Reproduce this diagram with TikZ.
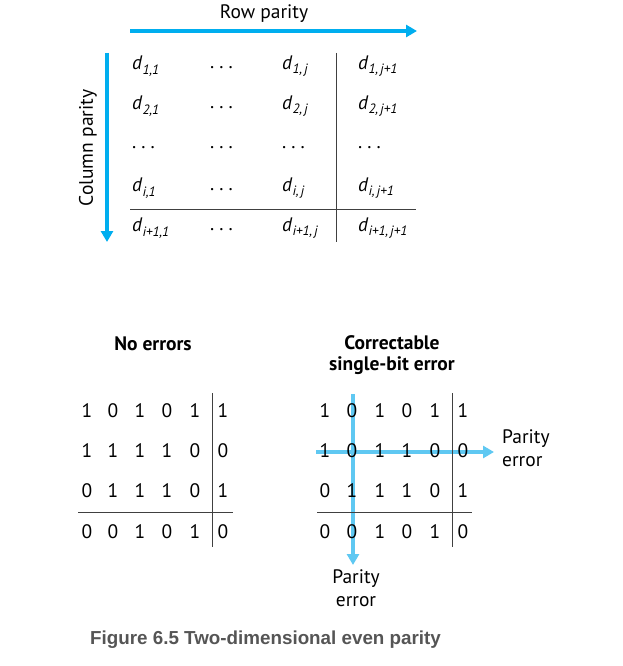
\documentclass[tikz,border=0pt]{standalone}
\usepackage{fontspec}
\setmainfont{PT Sans}
\newfontfamily\capfont{Liberation Sans}
\usetikzlibrary{arrows.meta}
\definecolor{cyanA}{RGB}{0,174,239}
\definecolor{cyanB}{RGB}{95,200,242}
\definecolor{capgray}{RGB}{85,85,85}
\newcommand\dsub[1]{\textit{d}\raisebox{-0.45ex}{\fontsize{13.5}{14}\selectfont\itshape #1}}
\newcommand\hdots{.\hspace{5pt}.\hspace{5pt}.}
\tikzset{
  lbl/.style={font=\fontsize{19.5}{23}\selectfont, inner sep=0pt},
  ent/.style={font=\fontsize{19.5}{23}\selectfont, inner sep=0pt, anchor=west},
  bit/.style={font=\fontsize{19.5}{23}\selectfont, inner sep=0pt},
  ttl/.style={font=\fontsize{19.5}{21}\selectfont\bfseries, inner sep=0pt, align=center},
  rule/.style={draw=black!75, line width=0.9pt},
  bigarrow/.style={draw=cyanA, line width=3.5pt, -{Triangle[length=11pt,width=12pt]}},
  errarrow/.style={draw=cyanB, line width=3.5pt, -{Triangle[length=11pt,width=12pt]}},
}
\begin{document}
\begin{tikzpicture}[x=1pt,y=-1pt]
\useasboundingbox (0,0) rectangle (622,666);
% ---------- top general scheme ----------
\node[lbl] (rowp) at (264,14) {Row parity};
\coordinate (ra) at (130,31); \coordinate (rb) at (417,31);
\draw[bigarrow] (ra) -- (rb);
\node[lbl, rotate=90] (colp) at (88,148) {Column parity};
\coordinate (ca) at (107,53); \coordinate (cb) at (107,242);
\draw[bigarrow] (ca) -- (cb);
% entries
\node[ent] (a11) at (132,66) {\dsub{1,1}};
\node[ent] (a12) at (210,68) {\hdots};
\node[ent] (a13) at (282,66) {\dsub{1,\,j}};
\node[ent] (a14) at (358,66) {\dsub{1,\,j+1}};
\node[ent] (a21) at (132,106) {\dsub{2,1}};
\node[ent] (a22) at (210,108) {\hdots};
\node[ent] (a23) at (282,106) {\dsub{2,\,j}};
\node[ent] (a24) at (358,106) {\dsub{2,\,j+1}};
\node[ent] (a31) at (132,148) {\hdots};
\node[ent] (a32) at (210,148) {\hdots};
\node[ent] (a33) at (282,148) {\hdots};
\node[ent] (a34) at (358,148) {\hdots};
\node[ent] (a41) at (132,188) {\dsub{i,1}};
\node[ent] (a42) at (210,190) {\hdots};
\node[ent] (a43) at (282,188) {\dsub{i,\,j}};
\node[ent] (a44) at (358,188) {\dsub{i,\,j+1}};
\node[ent] (a51) at (132,228) {\dsub{i+1,1}};
\node[ent] (a52) at (210,230) {\hdots};
\node[ent] (a53) at (282,228) {\dsub{i+1,\,j}};
\node[ent] (a54) at (358,228) {\dsub{i+1,\,j+1}};
\coordinate (tv1) at (336,53); \coordinate (tv2) at (336,242);
\coordinate (th1) at (130,209); \coordinate (th2) at (416,209);
\draw[rule] (tv1) -- (tv2);
\draw[rule] (th1) -- (th2);
% ---------- no errors ----------
\node[ttl] (noerr) at (153,344) {No errors};
\foreach \r/\y/\vals in {1/411/{1,0,1,0,1,1},2/451/{1,1,1,1,0,0},3/491/{0,1,1,1,0,1},4/532/{0,0,1,0,1,0}}{
  \foreach \v [count=\c] in \vals {
    \pgfmathsetmacro\xx{{87,113,140,167,195,223}[\c-1]}
    \node[bit] (L\r\c) at (\xx,\y) {\v};
  }
}
\coordinate (lv1) at (212,393); \coordinate (lv2) at (212,547);
\coordinate (lh1) at (78,512); \coordinate (lh2) at (233,512);
\draw[rule] (lv1) -- (lv2);
\draw[rule] (lh1) -- (lh2);
% ---------- correctable ----------
\node[ttl] (corr) at (392,355) {Correctable\\single-bit error};
\coordinate (ha) at (316,452); \coordinate (hb) at (494,452);
\draw[errarrow] (ha) -- (hb);
\coordinate (va) at (353,394); \coordinate (vb) at (353,565);
\draw[errarrow] (va) -- (vb);
\foreach \r/\y/\vals in {1/411/{1,0,1,0,1,1},2/451/{1,0,1,1,0,0},3/491/{0,1,1,1,0,1},4/532/{0,0,1,0,1,0}}{
  \foreach \v [count=\c] in \vals {
    \pgfmathsetmacro\xx{{325,352,380,407,435,463}[\c-1]}
    \node[bit] (R\r\c) at (\xx,\y) {\v};
  }
}
\coordinate (rv1) at (452,393); \coordinate (rv2) at (452,547);
\coordinate (rh1) at (317,512); \coordinate (rh2) at (472,512);
\draw[rule] (rv1) -- (rv2);
\draw[rule] (rh1) -- (rh2);
\node[lbl, anchor=west, align=left] (perr1) at (502,448) {Parity\\error};
\node[lbl, align=center] (perr2) at (356,588) {Parity\\error};
% ---------- caption ----------
\node[inner sep=0pt, anchor=west, text=capgray, font=\capfont\bfseries\fontsize{18.8}{21}\selectfont] (cap) at (90,640) {Figure 6.5 Two-dimensional even parity};
\end{tikzpicture}
\end{document}
